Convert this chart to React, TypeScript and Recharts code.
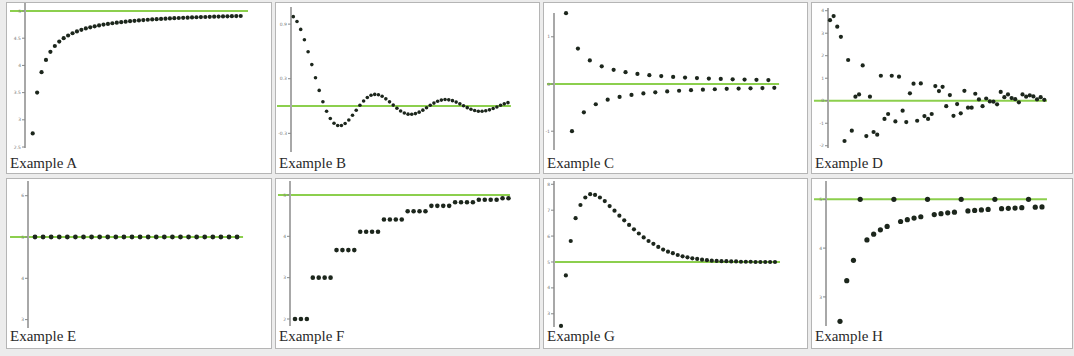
import React from 'react';
import { ScatterChart, Scatter, XAxis, YAxis, ReferenceLine } from 'recharts';

// ---- data (sequence values, index n = 1..N) ----
const seqA = [2.75, 3.5, 3.875, 4.1, 4.25, 4.357, 4.438, 4.5, 4.55, 4.591, 4.625, 4.654, 4.679, 4.7, 4.719, 4.735, 4.75, 4.763, 4.775, 4.786, 4.795, 4.804, 4.813, 4.82, 4.827, 4.833, 4.839, 4.845, 4.85, 4.855, 4.859, 4.864, 4.868, 4.871, 4.875, 4.878, 4.882, 4.885, 4.888, 4.89, 4.893, 4.895, 4.898, 4.9, 4.902, 4.904, 4.906, 4.908];
const seqB = [0.982, 0.928, 0.842, 0.729, 0.597, 0.455, 0.31, 0.172, 0.047, -0.057, -0.137, -0.189, -0.214, -0.214, -0.192, -0.153, -0.102, -0.047, 0.008, 0.056, 0.094, 0.118, 0.128, 0.124, 0.107, 0.079, 0.046, 0.01, -0.025, -0.054, -0.076, -0.089, -0.091, -0.083, -0.067, -0.045, -0.019, 0.008, 0.032, 0.052, 0.065, 0.071, 0.068, 0.059, 0.043, 0.024, 0.003, -0.018, -0.036, -0.049, -0.057, -0.058, -0.052, -0.042, -0.027, -0.01, 0.008, 0.024, 0.037];
const seqC = [1.5, -1, 0.75, -0.6, 0.5, -0.429, 0.375, -0.333, 0.3, -0.273, 0.25, -0.231, 0.214, -0.2, 0.188, -0.176, 0.167, -0.158, 0.15, -0.143, 0.136, -0.13, 0.125, -0.12, 0.115, -0.111, 0.107, -0.103, 0.1, -0.097, 0.094, -0.091, 0.088, -0.086, 0.083, -0.081];
const seqD = [3.58, 3.76, 3.29, 2.84, -1.79, 1.81, -1.33, 0.18, 0.28, 1.57, -1.57, 0.18, -1.39, -1.51, 1.11, -0.81, -0.59, 1.11, -0.92, 1.07, -0.44, -0.95, 0.33, 0.76, -0.89, 0.77, -0.68, -0.81, -0.59, 0.65, 0.43, 0.62, -0.24, 0.25, -0.67, -0.15, -0.56, 0.44, -0.31, -0.31, 0.31, 0.06, -0.24, 0.1, -0.03, -0.04, -0.16, 0.39, 0.16, 0.28, 0.12, 0.07, -0.07, 0.28, 0.18, 0.24, 0.19, 0.06, 0.16, 0.04];
const seqE = [5, 5, 5, 5, 5, 5, 5, 5, 5, 5, 5, 5, 5, 5, 5, 5, 5, 5, 5, 5, 5, 5, 5, 5, 5, 5];
const seqF = [2, 2, 2, 3, 3, 3, 3, 3.667, 3.667, 3.667, 3.667, 4.111, 4.111, 4.111, 4.111, 4.407, 4.407, 4.407, 4.407, 4.605, 4.605, 4.605, 4.605, 4.737, 4.737, 4.737, 4.737, 4.824, 4.824, 4.824, 4.824, 4.883, 4.883, 4.883, 4.883, 4.922, 4.922];
const seqG = [2.53, 4.48, 5.81, 6.69, 7.2, 7.49, 7.62, 7.59, 7.49, 7.35, 7.16, 6.98, 6.79, 6.61, 6.43, 6.26, 6.1, 5.95, 5.81, 5.7, 5.58, 5.48, 5.4, 5.34, 5.27, 5.22, 5.18, 5.14, 5.12, 5.09, 5.07, 5.05, 5.04, 5.03, 5.03, 5.02, 5.02, 5.01, 5.01, 5.01, 5.0, 5.0, 5.0, 5.0, 5.0];
const seqH = [2.5, 3.333, 3.75, 5, 4.167, 4.286, 4.375, 4.444, 5, 4.545, 4.583, 4.615, 4.643, 5, 4.688, 4.706, 4.722, 4.737, 5, 4.762, 4.773, 4.783, 4.792, 5, 4.808, 4.815, 4.821, 4.828, 5, 4.839, 4.844];

const limits = [5, 0, 0, 0, 5, 5, 5, 5];
const labels = ['Example A', 'Example B', 'Example C', 'Example D', 'Example E', 'Example F', 'Example G', 'Example H'];
const ticksA = [2.5, 3, 3.5, 4, 4.5, 5];
const ticksB = [-0.3, 0.3, 0.9];
const ticksC = [-1, 0, 1];
const ticksD = [-2, -1, 0, 1, 2, 3, 4];
const ticksE = [3, 4, 5, 6];
const ticksF = [2, 3, 4, 5];
const ticksG = [3, 4, 5, 6, 7, 8];
const ticksH = [3, 4, 5];

const series = [seqA, seqB, seqC, seqD, seqE, seqF, seqG, seqH];
const tickSets = [ticksA, ticksB, ticksC, ticksD, ticksE, ticksF, ticksG, ticksH];

// ---- layout (positions / sizes / domains) ----
const layout = [
  { left: 6, top: 2, w: 266, h: 172, yW: 19, m: { top: 1, right: 20, bottom: 26, left: 0 }, xDom: [-0.74, 50.55], yDom: [2.482, 5.147], gx: [-4.13, 49.65], r: 2.1 },
  { left: 275, top: 2, w: 265, h: 172, yW: 16, m: { top: 5, right: 25, bottom: 22, left: 0 }, xDom: [0.38, 60.9], yDom: [-0.505, 1.088], gx: [-3.4, 59.8], r: 1.8 },
  { left: 543, top: 2, w: 265, h: 172, yW: 11, m: { top: 11, right: 26, bottom: 24, left: 0 }, xDom: [-1.02, 37.29], yDom: [-1.398, 1.504], gx: [-2.19, 36.8], r: 2.1 },
  { left: 811, top: 2, w: 262, h: 172, yW: 17, m: { top: 6, right: 23, bottom: 26, left: 0 }, xDom: [0.45, 61.57], yDom: [-2.1, 4.12], gx: [-3.41, 60.74], r: 2.1 },
  { left: 6, top: 178, w: 266, h: 171, yW: 22, m: { top: 3, right: 22, bottom: 21, left: 0 }, xDom: [0.134, 27.6], yDom: [2.797, 6.356], gx: [-2.09, 26.74], r: 2.4 },
  { left: 275, top: 178, w: 265, h: 171, yW: 15, m: { top: 3, right: 25, bottom: 23, left: 0 }, xDom: [0.157, 38.1], yDom: [1.831, 5.338], gx: [-1.87, 37.25], r: 2.3 },
  { left: 543, top: 178, w: 265, h: 171, yW: 11, m: { top: 3, right: 26, bottom: 22, left: 0 }, xDom: [-0.44, 46.44], yDom: [2.49, 8.127], gx: [-0.23, 46.03], r: 2.1 },
  { left: 811, top: 178, w: 262, h: 171, yW: 15, m: { top: 3, right: 23, bottom: 23, left: 0 }, xDom: [-1.08, 32.19], yDom: [2.404, 5.375], gx: [-2.86, 31.74], r: 2.6 },
];

const DOT = '#1c261c';
const GREEN = '#8ccf4d';

function Panel({ idx }: { idx: number }) {
  const L = layout[idx];
  const data = series[idx].map((y, i) => ({ x: i + 1, y }));
  const lim = limits[idx];
  const r = L.r;
  return (
    <div
      style={{
        position: 'absolute', left: L.left, top: L.top, width: L.w, height: L.h,
        boxSizing: 'border-box', border: '1px solid #b5b5b5', background: '#fff',
      }}
    >
      <div style={{ position: 'absolute', left: -1, top: -1 }}>
        <ScatterChart width={L.w} height={L.h} margin={L.m}>
          <XAxis type="number" dataKey="x" domain={L.xDom} hide />
          <YAxis
            type="number" dataKey="y" domain={L.yDom} ticks={tickSets[idx]} interval={0}
            width={L.yW} tickSize={3} tickMargin={1}
            axisLine={{ stroke: '#a8a8a8', strokeWidth: 2 }}
            tickLine={{ stroke: '#888', strokeWidth: 1 }}
            tick={{ fontSize: 4.5, fill: '#777', fontFamily: 'DejaVu Sans' }}
          />
          <ReferenceLine
            segment={[{ x: L.gx[0], y: lim }, { x: L.gx[1], y: lim }]}
            stroke={GREEN} strokeWidth={2} ifOverflow="visible"
          />
          <Scatter
            data={data} isAnimationActive={false}
            shape={(p: any) => <circle cx={p.cx} cy={p.cy} r={r} fill={DOT} />}
          />
        </ScatterChart>
      </div>
      <div
        style={{
          position: 'absolute', left: 3, top: L.top < 100 ? 152.5 : 149.5,
          fontFamily: '"Liberation Serif", "Times New Roman", serif', fontSize: 15,
          lineHeight: '15px', color: '#2a2a2a', whiteSpace: 'nowrap',
        }}
      >
        {labels[idx]}
      </div>
    </div>
  );
}

export default function App() {
  return (
    <div style={{ position: 'absolute', left: 0, top: 0, width: 1074, height: 356, background: '#ececec', overflow: 'hidden' }}>
      {layout.map((_, i) => (
        <Panel key={i} idx={i} />
      ))}
    </div>
  );
}
